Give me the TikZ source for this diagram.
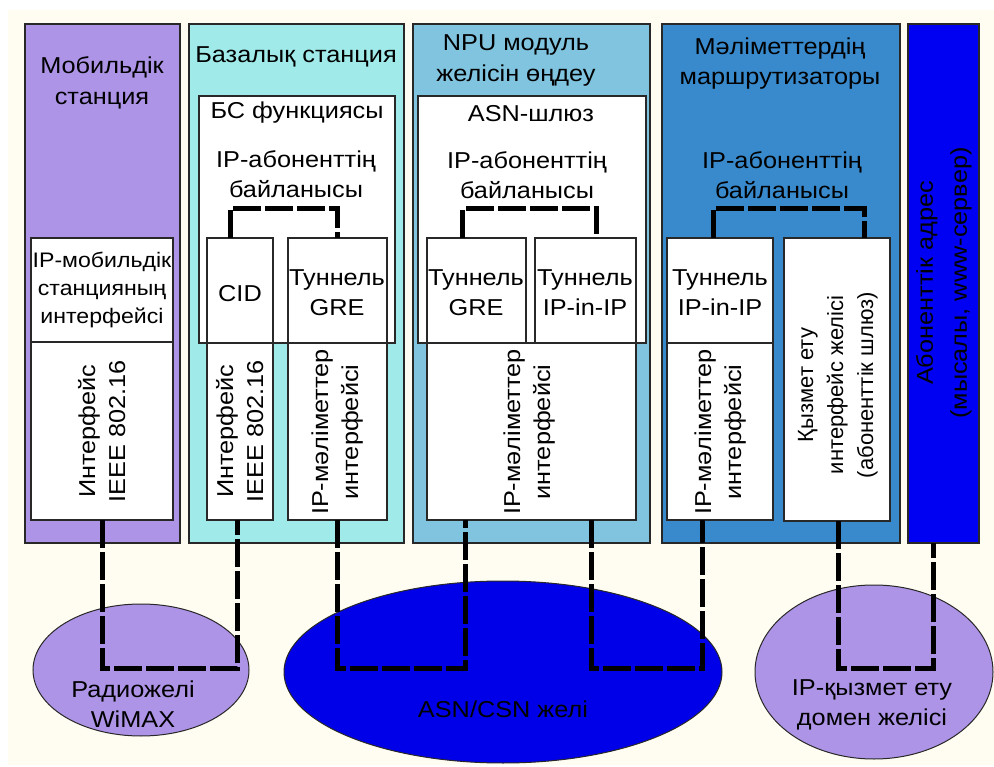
\documentclass[tikz,border=0pt]{standalone}
\usepackage{fontspec}
\setmainfont{Liberation Sans}[FakeStretch=1.1]
\newfontfamily\plainsans{Liberation Sans}
\usetikzlibrary{fit,shapes.geometric}

\definecolor{cream}{RGB}{255,252,242}
\definecolor{msviolet}{RGB}{173,148,230}
\definecolor{bscyan}{RGB}{160,234,234}
\definecolor{npublue}{RGB}{128,196,224}
\definecolor{rtblue}{RGB}{56,138,204}
\definecolor{hostblue}{RGB}{0,0,242}
\definecolor{asnblue}{RGB}{0,0,232}
\definecolor{edgegray}{RGB}{40,40,40}

\tikzset{
  frame/.style={draw=edgegray, line width=1.2pt},
  col/.style={frame, inner sep=0pt, outer sep=0pt},
  box/.style={frame, fill=white, inner sep=0pt, outer sep=0pt},
  txt/.style={inner sep=0pt, align=center, text=black,
              font=\fontsize{23}{30}\selectfont},
  link/.style={draw=black, line width=5pt, dash pattern=on 28pt off 4pt,
               line join=miter},
  net/.style={ellipse, draw=edgegray, line width=1pt, inner sep=0pt, outer sep=0pt},
}

\begin{document}
\begin{tikzpicture}[x=1pt,y=-1pt]
\useasboundingbox (0,0) rectangle (994,767);
\fill[cream] (8,10) rectangle (994,765);

% equipment columns
\node[col, fill=msviolet, fit={(25,24) (180,543)}]  (ms)   {};
\node[col, fill=bscyan,   fit={(189,24) (404,543)}] (bs)   {};
\node[col, fill=npublue,  fit={(413,24) (650,543)}] (npu)  {};
\node[col, fill=rtblue,   fit={(662,24) (900,543)}] (rt)   {};
\node[col, fill=hostblue, fit={(908,24) (979,543)}] (host) {};

% mobile station blocks
\node[box, fit={(31,238) (173,342)}] (msip)  {};
\node[box, fit={(31,342) (173,520)}] (msphy) {};

% base station blocks
\node[box, fit={(199,96) (395,343)}]  (bsf) {};
\node[box, fit={(207,238) (273,520)}] (cid) {};
\node[box, fit={(288,238) (387,520)}] (gre) {};
\draw[frame] (bsf.south west) -- (bsf.south east);

% ASN gateway blocks
\node[box, fit={(418,96) (646,343)}]  (asngw) {};
\node[box, fit={(427,238) (526,343)}] (gre3)  {};
\node[box, fit={(535,238) (636,343)}] (ipip3) {};
\node[box, fit={(427,343) (636,520)}] (data3) {};

% router blocks
\node[box, fit={(667,238) (773,343)}] (ipip4) {};
\node[box, fit={(667,343) (773,520)}] (data4) {};
\node[box, fit={(784,238) (890,521)}] (svc)   {};

% networks
\node[net, fill=msviolet, minimum width=216pt, minimum height=132pt] (radio) at (141,670) {};
\node[net, fill=asnblue,  minimum width=438pt, minimum height=182pt] (asn)   at (503,672) {};
\node[net, fill=msviolet, minimum width=238pt, minimum height=174pt] (ipdom) at (874,672) {};

% subscriber IP links inside the equipment
\draw[link] ([xshift=-10pt]cid.north)  -- ++(0,-29) -| (gre.north);
\draw[link] ([xshift=-14pt]gre3.north) -- ++(0,-29) -| ([xshift=11pt]ipip3.north);
\draw[link] ([xshift=-7pt]ipip4.north) -- ++(0,-29) -| ([xshift=27pt]svc.north);

% links through the networks
\draw[link] (msphy.south) -- ++(0,148) -| ([xshift=-3pt]cid.south);
\draw[link] (gre.south) -- ++(0,148) -| ([xshift=-66.5pt]data3.south);
\draw[link] ([xshift=59.5pt]data3.south) -- ++(0,148) -| ([xshift=-18pt]data4.south);
\draw[link] ([xshift=1pt]svc.south) -- ++(0,147) -| ([xshift=-10.5pt]host.south);

% column titles
\node[txt, font=\fontsize{23}{31}\selectfont] (mstitle) at (102,83) {\strut Мобильдік\\\strut станция};
\node[txt] (bstitle) at (296,57) {\strut Базалық станция};
\node[txt, font=\fontsize{23}{31}\selectfont] (nputitle) at (516,60) {\strut NPU модуль\\\strut желісін өңдеу};
\node[txt] (rttitle) at (780,64) {\strut Мәліметтердің\\\strut маршрутизаторы};

% block titles
\node[txt] (bsftitle) at (297,113) {\strut БС функциясы};
\node[txt] (asntitle) at (531,116) {\strut ASN-шлюз};
\node[txt] (sub2) at (296,177) {\strut IP-абоненттің\\\strut байланысы};
\node[txt] (sub3) at (527,178) {\strut IP-абоненттің\\\strut байланысы};
\node[txt] (sub4) at (782,178) {\strut IP-абоненттің\\\strut байланысы};

\node[txt, font=\fontsize{21}{28}\selectfont] (msiptxt) at (102,290)
  {\strut IP-мобильдік\\\strut станцияның\\\strut интерфейсі};
\node[txt] (cidtxt)   at (240,296) {\strut CID};
\node[txt] (gretxt)   at (337,295) {\strut Туннель\\\strut GRE};
\node[txt] (gre3txt)  at (476,295) {\strut Туннель\\\strut GRE};
\node[txt] (ipip3txt) at (585,295) {\strut Туннель\\\strut IP-in-IP};
\node[txt] (ipip4txt) at (720,295) {\strut Туннель\\\strut IP-in-IP};

% interface labels set vertically
\node[txt, rotate=90] (msphytxt) at (104,431) {\strut Интерфейс\\\strut IEEE 802.16};
\node[txt, rotate=90] (cidphy)   at (242,431) {\strut Интерфейс\\\strut IEEE 802.16};
\node[txt, rotate=90] (greif)    at (337,432) {\strut IP-мәліметтер\\\strut интерфейсі};
\node[txt, rotate=90] (data3txt) at (529,432) {\strut IP-мәліметтер\\\strut интерфейсі};
\node[txt, rotate=90] (data4txt) at (720,432) {\strut IP-мәліметтер\\\strut интерфейсі};
\node[txt, rotate=90, font=\plainsans\fontsize{22}{30}\selectfont] (svctxt) at (837,385)
  {\strut Қызмет ету\\\strut интерфейс желісі\\\strut (абоненттік шлюз)};
\node[txt, rotate=90, font=\fontsize{23}{34}\selectfont] (hosttxt) at (943,283)
  {\strut Абоненттік адрес\\\strut (мысалы, www-сервер)};

% network names
\node[txt] (radiotxt) at (133,706) {\strut Радиожелі\\\strut WiMAX};
\node[txt] (asntxt)   at (503,711) {\strut ASN/CSN желі};
\node[txt] (ipdomtxt) at (872,704) {\strut IP-қызмет ету\\\strut домен желісі};
\end{tikzpicture}
\end{document}
